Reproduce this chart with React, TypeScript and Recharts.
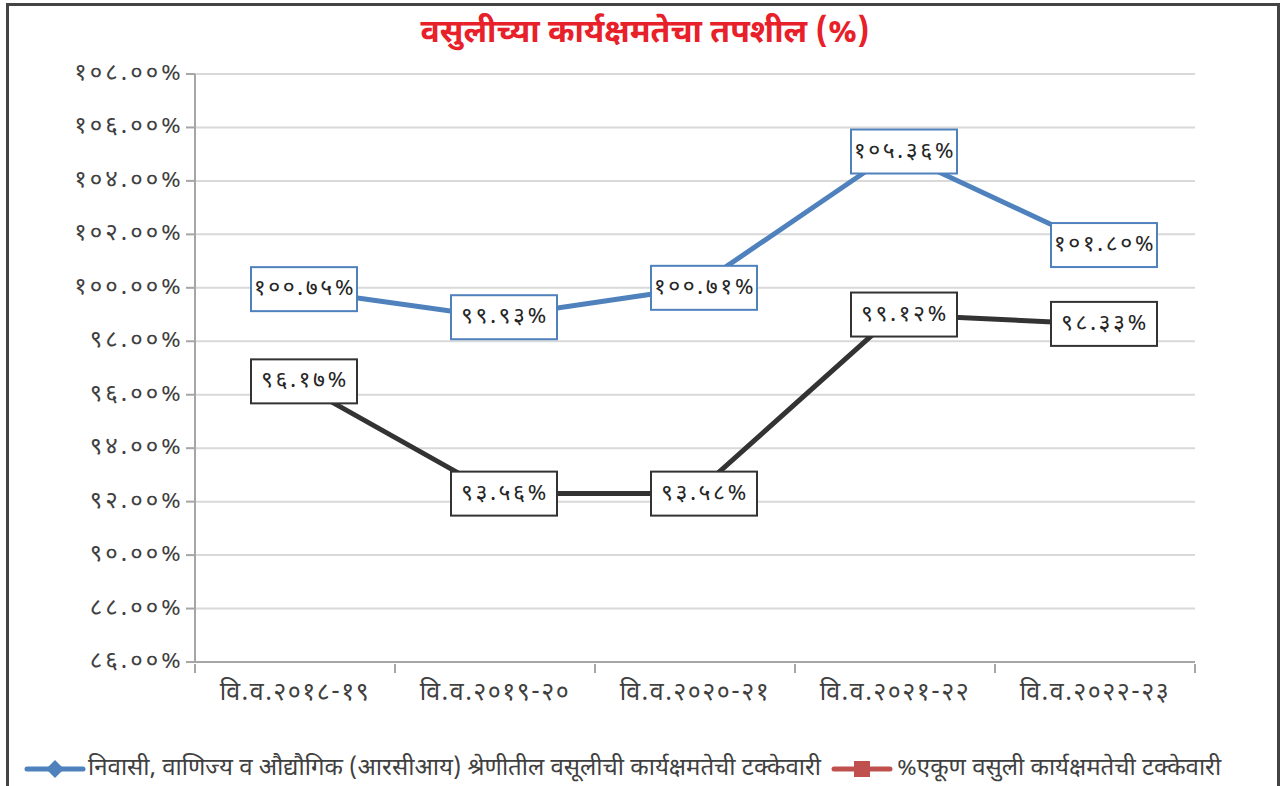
import React from 'react';
import { LineChart, Line, XAxis, YAxis, CartesianGrid, LabelList } from 'recharts';

// Categories (financial years)
const categories = ['वि.व.२०१८-१९', 'वि.व.२०१९-२०', 'वि.व.२०२०-२१', 'वि.व.२०२१-२२', 'वि.व.२०२२-२३'];
// Plotted positions (the source draws the lines slightly off their printed labels)
const rciValues = [99.95, 98.9, 100.0, 105.1, 101.6];
const totalValues = [96.5, 92.3, 92.3, 99.0, 98.65];
// Printed data labels
const rciLabels = [100.75, 99.93, 100.71, 105.36, 101.8];
const totalLabels = [96.17, 93.56, 93.58, 99.12, 98.33];
// Y ticks
const yTicks = [86, 88, 90, 92, 94, 96, 98, 100, 102, 104, 106, 108];

const title = 'वसुलीच्या कार्यक्षमतेचा तपशील (%)';
const rciName = 'निवासी, वाणिज्य व औद्यौगिक (आरसीआय) श्रेणीतील वसूलीची कार्यक्षमतेची टक्केवारी';
const totalName = '%एकूण वसुली कार्यक्षमतेची टक्केवारी';

const data = categories.map((c, i) => ({
  name: c,
  rci: rciValues[i],
  total: totalValues[i],
  rciLabel: rciLabels[i],
  totalLabel: totalLabels[i],
}));

const devDigits = '०१२३४५६७८९';
const toDev = (s: string) => s.replace(/[0-9]/g, (d) => devDigits[Number(d)]);
const fmt = (v: number) => toDev(v.toFixed(2)) + '%';

const FONT = '"Noto Sans Devanagari", "Noto Sans", "DejaVu Sans", sans-serif';
const BLUE = '#4f81bd';
const DARK = '#333333';
const RED = '#c0504d';

const LABEL_DX = 9;

const makeLabel = (labels: number[], color: string) => (props: any) => {
  const { x, y, index } = props;
  const w = 106;
  const h = 44;
  const cx = x + LABEL_DX;
  return (
    <g>
      <rect x={cx - w / 2} y={y - h / 2} width={w} height={h} fill="#ffffff" stroke={color} strokeWidth={2} />
      <text x={cx + 1} y={y} textAnchor="middle" dominantBaseline="central" fontSize={23} fill="#262626" fontFamily={FONT} letterSpacing={2.5}>
        {fmt(labels[index])}
      </text>
    </g>
  );
};

const BAND = 1000 / categories.length;

const XTick = (props: any) => {
  const { x, y, payload, index } = props;
  return (
    <g>
      <line x1={x - BAND / 2} y1={y} x2={x - BAND / 2} y2={y + 9} stroke="#a6a6a6" strokeWidth={2} />
      {index === categories.length - 1 && (
        <line x1={x + BAND / 2} y1={y} x2={x + BAND / 2} y2={y + 9} stroke="#a6a6a6" strokeWidth={2} />
      )}
      <text x={x} y={y + 36} textAnchor="middle" fontSize={25} fill="#404040" fontFamily={FONT} letterSpacing={1.5}>
        {payload.value}
      </text>
    </g>
  );
};

const YTick = (props: any) => {
  const { x, y, payload } = props;
  return (
    <text x={x} y={y} textAnchor="end" dominantBaseline="central" fontSize={24} fill="#404040" fontFamily={FONT} letterSpacing={3}>
      {fmt(payload.value)}
    </text>
  );
};

export default function App() {
  return (
    <div style={{ position: 'absolute', left: 0, top: 0, width: 1285, height: 786, overflow: 'hidden', background: '#fff' }}>
      <div style={{ position: 'absolute', left: 6, top: 3, width: 1268, height: 820, border: '3px solid #444' }} />
      <div style={{ position: 'absolute', left: 0, top: 13, width: 1290, textAlign: 'center', fontFamily: FONT, fontWeight: 700, fontSize: 32, color: '#e8202a' }}>
        {title}
      </div>
      <div style={{ position: 'absolute', left: 0, top: 0 }}>
        <LineChart width={1285} height={786} data={data} margin={{ top: 74, right: 90, left: 0, bottom: 0 }}>
          <CartesianGrid vertical={false} stroke="#d9d9d9" strokeWidth={2} />
          <XAxis dataKey="name" scale="band" height={124} tickSize={0} tickLine={false} axisLine={{ stroke: '#a6a6a6', strokeWidth: 2 }} tick={<XTick />} interval={0} />
          <YAxis width={195} domain={[86, 108]} ticks={yTicks} interval={0} tickSize={9} tickMargin={2} tickLine={{ stroke: '#a6a6a6', strokeWidth: 2 }} axisLine={{ stroke: '#a6a6a6', strokeWidth: 2 }} tick={<YTick />} />
          <Line type="linear" dataKey="rci" stroke={BLUE} strokeWidth={5} dot={false} activeDot={false} isAnimationActive={false}>
            <LabelList dataKey="rciLabel" content={makeLabel(rciLabels, BLUE)} />
          </Line>
          <Line type="linear" dataKey="total" stroke={DARK} strokeWidth={5} dot={false} activeDot={false} isAnimationActive={false}>
            <LabelList dataKey="totalLabel" content={makeLabel(totalLabels, DARK)} />
          </Line>
        </LineChart>
      </div>
      <div style={{ position: 'absolute', left: 24, top: 753, display: 'flex', alignItems: 'center', fontFamily: FONT, fontSize: 24, color: '#404040', whiteSpace: 'nowrap' }}>
        <svg width={62} height={22} style={{ marginRight: 2 }}>
          <line x1={3} y1={11} x2={59} y2={11} stroke={BLUE} strokeWidth={5} strokeLinecap="round" />
          <polygon points="31,2 40,11 31,20 22,11" fill={BLUE} />
        </svg>
        <span>{rciName}</span>
        <svg width={62} height={22} style={{ marginLeft: 10, marginRight: 4 }}>
          <line x1={3} y1={11} x2={59} y2={11} stroke={RED} strokeWidth={5} strokeLinecap="round" />
          <rect x={23} y={3} width={16} height={16} fill={RED} />
        </svg>
        <span>{totalName}</span>
      </div>
    </div>
  );
}
